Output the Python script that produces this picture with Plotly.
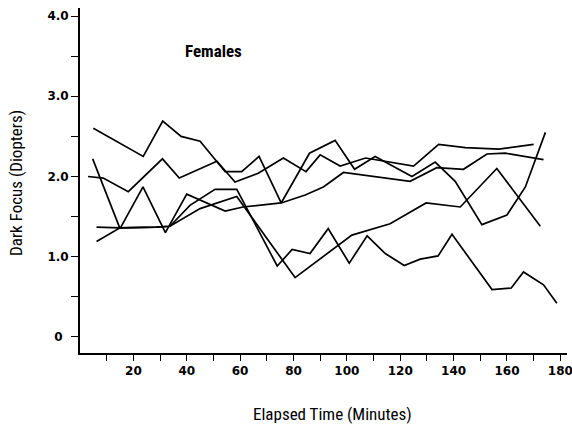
import plotly.graph_objects as go

# Elapsed time (minutes) and dark focus (diopters) for each of five female subjects
s1_x = [5, 23.7, 31, 37.9, 45, 54.4, 60.6, 67.1, 75.4, 86, 95.6, 102.9, 110.6, 124.4, 133.1, 140.6, 150.6, 160, 166.9, 171.2, 174.4]
s1_y = [2.60, 2.25, 2.69, 2.50, 2.44, 2.06, 2.06, 2.25, 1.67, 2.29, 2.45, 2.09, 2.25, 2.00, 2.18, 1.94, 1.40, 1.52, 1.87, 2.25, 2.55]

s2_x = [3, 8.7, 18.1, 30.9, 37.2, 45, 51.3, 58.1, 66.8, 76.2, 84.7, 90, 97.5, 107, 125, 134.4, 144.4, 156.9, 170]
s2_y = [2.00, 1.98, 1.81, 2.22, 1.98, 2.10, 2.19, 1.93, 2.04, 2.23, 2.06, 2.27, 2.13, 2.23, 2.13, 2.40, 2.36, 2.34, 2.40]

s3_x = [4.75, 15, 23.6, 32, 40, 47.5, 54.4, 61.1, 75.4, 84.4, 91.2, 98.7, 123.7, 133.7, 143.7, 152.5, 159.4, 173.7]
s3_y = [2.22, 1.35, 1.87, 1.30, 1.78, 1.67, 1.57, 1.62, 1.67, 1.77, 1.87, 2.05, 1.94, 2.11, 2.09, 2.28, 2.29, 2.21]

s4_x = [6.2, 15, 28.6, 33.7, 41.2, 50.6, 58.75, 73.9, 79.5, 86.2, 93, 100.9, 107.6, 114.4, 121.5, 127.5, 134.2, 139.4, 154.4, 161.6, 166.2, 173.7, 178.7]
s4_y = [1.37, 1.36, 1.37, 1.38, 1.64, 1.84, 1.84, 0.885, 1.09, 1.04, 1.35, 0.92, 1.26, 1.04, 0.89, 0.97, 1.01, 1.28, 0.59, 0.61, 0.81, 0.65, 0.42]

s5_x = [6.2, 15, 28.6, 33.7, 45, 58.75, 80.6, 101.9, 116.2, 129.7, 142.5, 156.2, 172.5]
s5_y = [1.19, 1.36, 1.37, 1.38, 1.60, 1.75, 0.74, 1.27, 1.41, 1.67, 1.62, 2.10, 1.38]

series = [(s1_x, s1_y), (s2_x, s2_y), (s3_x, s3_y), (s4_x, s4_y), (s5_x, s5_y)]

x_tick_vals = [20, 40, 60, 80, 100, 120, 140, 160, 180]
x_tick_text = ["20", "40", "60", "80", "100", "120", "140", "160", "180"]
x_minor_vals = [10, 30, 50, 70, 90, 110, 130, 150, 170]
y_tick_vals = [0, 1, 2, 3, 4]
y_tick_text = ["0\u2002", "1.0", "2.0", "3.0", "4.0"]
y_minor_vals = [0.5, 1.5, 2.5, 3.5]

fig = go.Figure()
for sx, sy in series:
    fig.add_trace(go.Scatter(x=sx, y=sy, mode="lines",
                             line=dict(color="black", width=1.7),
                             showlegend=False, hoverinfo="skip"))

tickfont = dict(family="DejaVu Sans", size=12, color="black", weight="bold")
narrow = "Liberation Sans Narrow, Roboto Condensed, Arial Narrow, Roboto, sans-serif"

fig.update_layout(
    width=572, height=430,
    margin=dict(l=80, r=5, t=8, b=77),
    paper_bgcolor="white", plot_bgcolor="white",
    xaxis=dict(range=[0, 182.5], showgrid=False, zeroline=False, automargin=False,
               showline=True, linecolor="black", linewidth=1.5,
               ticks="outside", ticklen=6, tickwidth=1.3, tickcolor="black",
               tickvals=x_tick_vals, ticktext=x_tick_text, tickfont=tickfont,
               ticklabeloverflow="allow",
               minor=dict(tickvals=x_minor_vals, ticks="outside", ticklen=6,
                          tickwidth=1.3, tickcolor="black")),
    yaxis=dict(range=[-0.2, 4.1], showgrid=False, zeroline=False, automargin=False,
               showline=True, linecolor="black", linewidth=1.8,
               ticks="outside", ticklen=7, tickwidth=1.3, tickcolor="black",
               tickvals=y_tick_vals, ticktext=y_tick_text, tickfont=tickfont,
               minor=dict(tickvals=y_minor_vals, ticks="outside", ticklen=7,
                          tickwidth=1.3, tickcolor="black")),
    annotations=[
        dict(text="Females", x=38.6, y=3.56, xref="x", yref="y",
             xanchor="left", yanchor="middle", showarrow=False,
             font=dict(family=narrow, size=17, color="black", weight="bold")),
        dict(text="Dark Focus (Diopters)", x=-0.1314, y=0.493,
             xref="paper", yref="paper", xanchor="center", yanchor="middle",
             textangle=-90, showarrow=False,
             font=dict(family=narrow, size=17, color="black")),
        dict(text="Elapsed Time (Minutes)", x=0.5175, y=-0.1768,
             xref="paper", yref="paper", xanchor="center", yanchor="middle",
             showarrow=False,
             font=dict(family=narrow, size=17, color="black")),
    ],
)

fig.write_html("out.html", config={"displayModeBar": False},
               post_script="document.body.style.margin='0';document.body.style.overflow='hidden';")
